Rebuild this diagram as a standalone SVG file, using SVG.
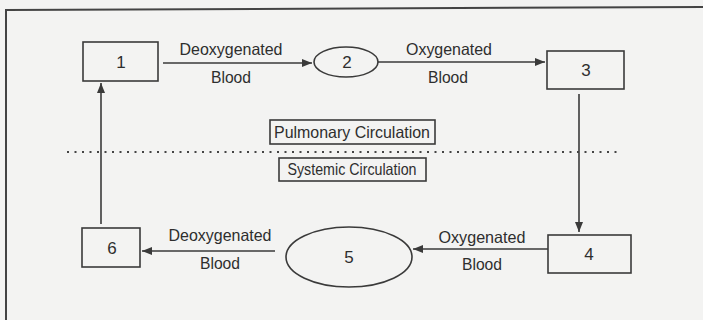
<svg xmlns="http://www.w3.org/2000/svg" width="703" height="320" viewBox="0 0 703 320">
<defs>
<marker id="ah" viewBox="0 0 10 8" refX="10" refY="4" markerWidth="10" markerHeight="8" markerUnits="userSpaceOnUse" orient="auto">
<path d="M0,0 L10,4 L0,8 Z" fill="#3a3a3a"/>
</marker>
<style>
.bx{fill:none;stroke:#3a3a3a;stroke-width:1.6}
.ln{fill:none;stroke:#3a3a3a;stroke-width:1.6}
.t{font-family:"Liberation Sans",Arial,sans-serif;fill:#2e2e2e;text-anchor:middle}
.n{font-size:17px}
.l{font-size:16.5px}
.c{font-size:16.5px}
</style>
</defs>
<rect width="703" height="320" fill="#f3f3f2"/>
<path d="M6,320 V10 L703,7" fill="none" stroke="#444" stroke-width="2"/>
<g id="connectors">
<line class="ln" x1="163" y1="63" x2="312" y2="63" marker-end="url(#ah)"/>
<line class="ln" x1="378" y1="62" x2="545" y2="62" marker-end="url(#ah)"/>
<line class="ln" x1="579" y1="94" x2="579" y2="232" marker-end="url(#ah)"/>
<line class="ln" x1="548" y1="249" x2="413" y2="249" marker-end="url(#ah)"/>
<line class="ln" x1="275" y1="251" x2="142" y2="251" marker-end="url(#ah)"/>
<line class="ln" x1="101" y1="224" x2="101" y2="83" marker-end="url(#ah)"/>
<text class="t l" x="231" y="55" textLength="103" lengthAdjust="spacingAndGlyphs">Deoxygenated</text>
<text class="t l" x="231" y="83" textLength="40" lengthAdjust="spacingAndGlyphs">Blood</text>
<text class="t l" x="449" y="55" textLength="86" lengthAdjust="spacingAndGlyphs">Oxygenated</text>
<text class="t l" x="448" y="83" textLength="40" lengthAdjust="spacingAndGlyphs">Blood</text>
<text class="t l" x="482" y="243" textLength="87" lengthAdjust="spacingAndGlyphs">Oxygenated</text>
<text class="t l" x="482" y="270" textLength="40" lengthAdjust="spacingAndGlyphs">Blood</text>
<text class="t l" x="220" y="241" textLength="103" lengthAdjust="spacingAndGlyphs">Deoxygenated</text>
<text class="t l" x="220" y="269" textLength="40" lengthAdjust="spacingAndGlyphs">Blood</text>
</g>
<g id="node1"><rect class="bx" x="83" y="42" width="75" height="39"/><text class="t n" x="121" y="68">1</text></g>
<g id="node2"><ellipse class="bx" cx="346" cy="62" rx="32" ry="15"/><text class="t n" x="347" y="68">2</text></g>
<g id="node3"><rect class="bx" x="547" y="51" width="77" height="38"/><text class="t n" x="586" y="76">3</text></g>
<g id="node4"><rect class="bx" x="548" y="235" width="83" height="38"/><text class="t n" x="589" y="260">4</text></g>
<g id="node5"><ellipse class="bx" cx="349" cy="257" rx="63" ry="30"/><text class="t n" x="349" y="263">5</text></g>
<g id="node6"><rect class="bx" x="82" y="228" width="58" height="39"/><text class="t n" x="112" y="254">6</text></g>
<g id="pulmonary"><rect class="bx" x="270" y="120" width="165" height="24"/><text class="t c" x="352" y="138" textLength="156" lengthAdjust="spacingAndGlyphs">Pulmonary Circulation</text></g>
<line x1="67" y1="152" x2="620" y2="152" stroke="#444" stroke-width="2" stroke-dasharray="2 5.5"/>
<g id="systemic"><rect class="bx" x="279" y="158" width="147" height="23"/><text class="t c" x="352" y="175" textLength="129" lengthAdjust="spacingAndGlyphs">Systemic Circulation</text></g>
</svg>
